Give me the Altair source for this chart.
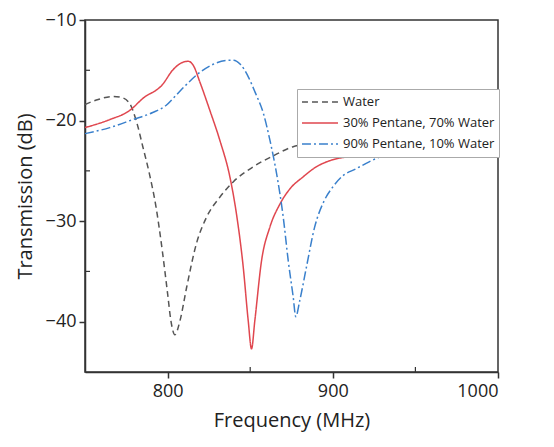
import altair as alt
import pandas as pd

# Water (dashed grey)
water_f = [750, 758, 767, 772, 777, 781, 785, 789, 793, 797, 800, 802, 804.4, 807.5, 811.5, 817.5, 823.6, 831.7, 839.7, 851.8, 864, 876, 885, 900, 915, 935]
water_t = [-18.4, -17.9, -17.6, -17.7, -18.3, -20.0, -22.6, -25.3, -28.6, -33.2, -37.2, -39.9, -41.3, -39.9, -36.6, -32.2, -29.6, -27.6, -26.1, -24.6, -23.5, -22.6, -22.3, -22.0, -21.8, -21.6]

# 30% Pentane, 70% Water (solid red)
p30_f = [750, 765, 777, 785, 797, 803, 807, 812.5, 815.5, 819.6, 825.6, 831.7, 837.7, 841.7, 845.8, 848.8, 850.8, 852.8, 856.9, 861.9, 868, 874, 882, 890, 898, 910, 936.5]
p30_t = [-20.7, -19.9, -19.0, -17.8, -16.4, -15.0, -14.4, -14.1, -14.5, -16.2, -19.0, -22.0, -25.6, -29.3, -34.6, -39.9, -42.7, -39.9, -33.9, -30.6, -28.3, -26.8, -25.6, -24.6, -24.0, -23.6, -23.4]

# 90% Pentane, 10% Water (dash-dot blue)
p90_f = [750, 765, 779, 791, 799, 805, 811.5, 819.6, 827.6, 837.7, 839.7, 844, 849, 853, 858, 862, 866, 870, 873, 876, 877.6, 880, 884, 889, 895, 900, 906, 914, 922, 931.5]
p90_t = [-21.3, -20.7, -19.9, -19.2, -18.5, -17.5, -16.4, -15.2, -14.4, -14.0, -14.0, -14.4, -15.7, -17.2, -19.3, -22.0, -25.3, -29.6, -33.9, -37.5, -39.5, -37.9, -34.6, -30.6, -27.9, -26.6, -25.5, -24.8, -24.1, -23.4]

series = ["Water", "30% Pentane, 70% Water", "90% Pentane, 10% Water"]
colors = ["#555555", "#e0474f", "#3a80cc"]
dashes = [[6, 4], [1, 0], [9, 3, 2, 3]]

x_ticks = [800, 900, 1000]
y_ticks = [-40, -30, -20, -10]
x_minor = [850, 950]
y_minor = [-15, -25, -35]

rows = []
for name, fs, ts in [(series[0], water_f, water_t), (series[1], p30_f, p30_t), (series[2], p90_f, p90_t)]:
    for i, (f, t) in enumerate(zip(fs, ts)):
        rows.append({"series": name, "freq": f, "trans": t, "order": i})
df = pd.DataFrame(rows)

W, H = 413, 352
FONT = "Open Sans"

xscale = alt.Scale(domain=[750, 1000], nice=False, zero=False)
yscale = alt.Scale(domain=[-45, -10], nice=False, zero=False)

lines = alt.Chart(df).mark_line(strokeWidth=1.5, clip=True, interpolate="monotone").encode(
    x=alt.X("freq:Q", scale=xscale, title="Frequency (MHz)",
            axis=alt.Axis(values=x_ticks, format="d", grid=False, tickSize=6, labelPadding=4,
                          titlePadding=10)),
    y=alt.Y("trans:Q", scale=yscale, title="Transmission (dB)",
            axis=alt.Axis(values=y_ticks, format="d", grid=False, tickSize=6, labelPadding=3,
                          titlePadding=10)),
    color=alt.Color("series:N", scale=alt.Scale(domain=series, range=colors), title=None,
                    legend=alt.Legend(orient="none", legendX=212, legendY=69, direction="vertical",
                                      symbolType="stroke", symbolSize=1300, symbolStrokeWidth=1.5,
                                      labelFontSize=13, labelFont=FONT, labelColor="#222",
                                      fillColor="white", strokeColor="#aaaaaa", padding=4,
                                      rowPadding=3, clipHeight=18, labelLimit=300, labelOffset=4,
                                      symbolOffset=0)),
    strokeDash=alt.StrokeDash("series:N", scale=alt.Scale(domain=series, range=dashes), title=None),
    order="order:Q",
)

xminor_df = pd.DataFrame({"f": x_minor})
yminor_df = pd.DataFrame({"t": y_minor})

xm = alt.Chart(xminor_df).mark_rule(color="#333", strokeWidth=1.2).encode(
    x=alt.X("f:Q", scale=xscale), y=alt.value(H), y2=alt.value(H - 5))
ym = alt.Chart(yminor_df).mark_rule(color="#333", strokeWidth=1.2).encode(
    y=alt.Y("t:Q", scale=yscale), x=alt.value(0), x2=alt.value(5))

chart = alt.layer(lines, xm, ym).properties(
    width=W, height=H,
    padding={"left": 77, "top": 12, "right": 48, "bottom": 67},
    autosize=alt.AutoSizeParams(type="none"),
).configure_view(
    stroke="#333", strokeWidth=1.5
).configure_axis(
    domainColor="#333", domainWidth=1.5, tickColor="#333", tickWidth=1.5,
    labelFont=FONT, titleFont=FONT, labelFontSize=18, titleFontSize=20,
    labelColor="#222", titleColor="#222", titleFontWeight="normal",
)

chart.save("out.html", embed_options={"renderer": "svg", "actions": False})
